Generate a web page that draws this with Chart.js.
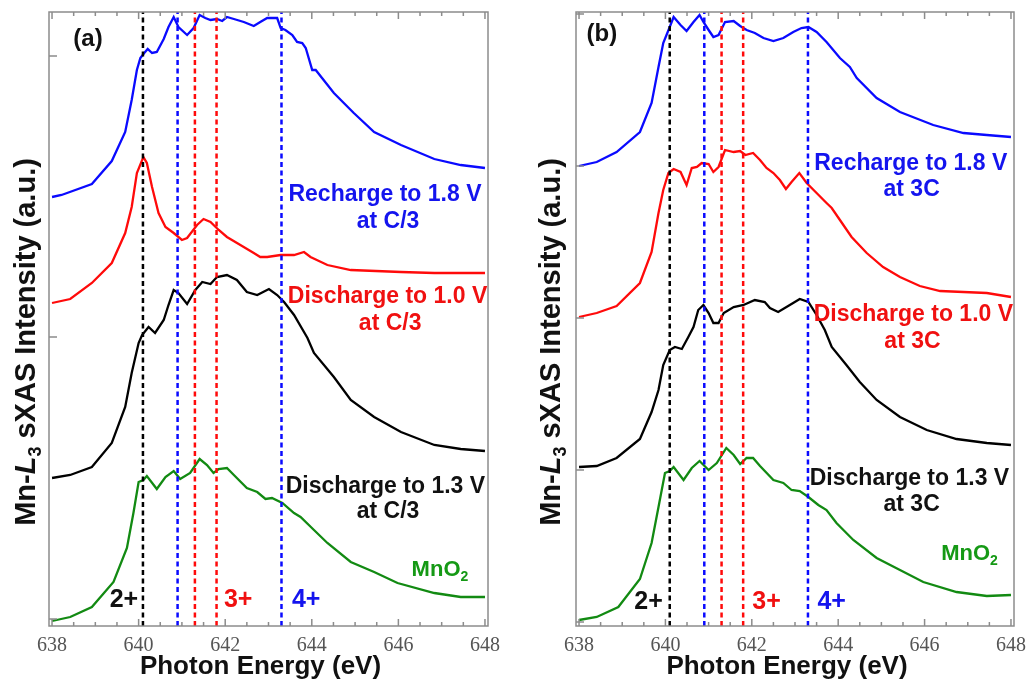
<!DOCTYPE html>
<html>
<head>
<meta charset="utf-8">
<script src="https://cdn.jsdelivr.net/npm/chart.js@4.4.1/dist/chart.umd.min.js"></script>
<style>
  html, body { margin: 0; padding: 0; background: #fff; }
  #wrap { position: relative; width: 1027px; height: 682px; background: #fff; }
  #wrap canvas { position: absolute; top: 0; }
</style>
</head>
<body>
<div id="wrap">
  <canvas id="chartA" width="512" height="682" style="left:0;width:512px;height:682px"></canvas>
  <canvas id="chartB" width="515" height="682" style="left:512px;width:515px;height:682px"></canvas>
</div>
<script>
const energyTicks = [638, 640, 642, 644, 646, 648];
const markerEnergy = [640.1, 640.9, 641.3, 641.8, 643.3];

// panel (a): C/3, curves are offset stacked (a.u.)
const aRechargeE = [638.0, 638.22, 638.92, 639.38, 639.69, 639.84, 639.96, 640.04, 640.13, 640.21, 640.31, 640.42, 640.58, 640.69, 640.81, 640.92, 641.12, 641.27, 641.41, 641.54, 641.66, 641.81, 641.93, 642.04, 642.2, 642.43, 642.66, 642.81, 642.97, 643.2, 643.28, 643.39, 643.55, 643.66, 643.78, 643.86, 644.01, 644.09, 644.51, 644.97, 645.44, 646.06, 646.83, 647.44, 648.0];
const aRechargeI = [4.29, 4.31, 4.42, 4.65, 4.94, 5.26, 5.56, 5.68, 5.73, 5.77, 5.73, 5.74, 5.87, 5.99, 6.09, 5.99, 5.91, 5.98, 6.11, 6.08, 6.06, 6.07, 6.05, 6.09, 6.07, 6.04, 6.00, 6.04, 6.08, 6.08, 5.98, 5.96, 5.91, 5.84, 5.83, 5.78, 5.56, 5.56, 5.33, 5.13, 4.94, 4.81, 4.67, 4.61, 4.58];
const aDis10E = [638.0, 638.42, 638.92, 639.38, 639.69, 639.84, 639.96, 640.11, 640.19, 640.31, 640.46, 640.62, 640.81, 641.0, 641.12, 641.35, 641.5, 641.66, 641.85, 642.04, 642.35, 642.66, 642.81, 642.97, 643.28, 643.59, 643.82, 643.97, 644.36, 644.9, 646.06, 646.83, 648.0];
const aDis10I = [3.23, 3.27, 3.43, 3.63, 3.93, 4.19, 4.53, 4.69, 4.63, 4.39, 4.13, 3.99, 3.93, 3.86, 3.88, 4.01, 4.07, 4.04, 3.96, 3.89, 3.81, 3.73, 3.69, 3.69, 3.71, 3.71, 3.74, 3.69, 3.61, 3.56, 3.54, 3.53, 3.53];
const aDis13E = [638.0, 638.42, 638.92, 639.38, 639.69, 639.84, 640.0, 640.08, 640.23, 640.38, 640.58, 640.69, 640.81, 640.92, 641.12, 641.31, 641.47, 641.66, 641.81, 642.04, 642.27, 642.5, 642.74, 643.01, 643.2, 643.36, 643.59, 643.9, 644.05, 644.51, 644.9, 645.44, 646.06, 646.83, 647.44, 648.0];
const aDis13I = [1.48, 1.51, 1.59, 1.83, 2.19, 2.53, 2.83, 2.91, 2.99, 2.93, 3.06, 3.21, 3.36, 3.33, 3.22, 3.36, 3.44, 3.42, 3.49, 3.51, 3.46, 3.34, 3.31, 3.37, 3.31, 3.24, 3.11, 2.88, 2.73, 2.49, 2.26, 2.09, 1.94, 1.81, 1.77, 1.75];
const aMnO2E = [638.0, 638.42, 638.92, 639.42, 639.73, 639.88, 640.0, 640.11, 640.19, 640.42, 640.62, 640.81, 640.96, 641.19, 641.41, 641.58, 641.73, 641.85, 642.04, 642.2, 642.5, 642.74, 642.93, 643.08, 643.32, 643.59, 643.74, 644.05, 644.36, 644.9, 645.44, 645.98, 646.83, 647.44, 648.0];
const aMnO2I = [0.05, 0.09, 0.19, 0.44, 0.78, 1.13, 1.44, 1.46, 1.50, 1.37, 1.49, 1.55, 1.47, 1.53, 1.67, 1.61, 1.53, 1.57, 1.58, 1.51, 1.38, 1.34, 1.27, 1.28, 1.23, 1.13, 1.09, 0.96, 0.83, 0.64, 0.54, 0.43, 0.33, 0.29, 0.29];

// panel (b): 3C
const bRechargeE = [638.0, 638.41, 638.87, 639.41, 639.68, 639.84, 639.95, 640.1, 640.19, 640.35, 640.49, 640.65, 640.79, 640.88, 641.0, 641.11, 641.23, 641.38, 641.58, 641.73, 641.88, 642.07, 642.27, 642.5, 642.73, 642.96, 643.15, 643.31, 643.5, 643.73, 644.04, 644.27, 644.43, 644.89, 645.43, 646.2, 646.9, 647.44, 648.0];
const bRechargeI = [4.60, 4.64, 4.74, 4.94, 5.23, 5.59, 5.83, 5.99, 6.09, 6.01, 5.95, 6.04, 6.11, 6.04, 5.96, 5.89, 5.91, 6.04, 6.05, 6.00, 5.96, 5.93, 5.88, 5.85, 5.88, 5.94, 5.98, 5.99, 5.94, 5.84, 5.68, 5.59, 5.48, 5.28, 5.14, 5.01, 4.93, 4.91, 4.89];
const bDis10E = [638.0, 638.41, 638.87, 639.41, 639.68, 639.84, 639.95, 640.07, 640.19, 640.35, 640.49, 640.61, 640.73, 640.84, 641.0, 641.11, 641.23, 641.38, 641.58, 641.73, 641.85, 642.03, 642.19, 642.34, 642.5, 642.65, 642.79, 642.92, 643.1, 643.27, 643.5, 643.73, 643.85, 644.04, 644.31, 644.66, 645.04, 645.43, 645.89, 646.36, 647.44, 648.0];
const bDis10I = [3.09, 3.13, 3.20, 3.43, 3.74, 4.13, 4.36, 4.53, 4.57, 4.54, 4.41, 4.58, 4.59, 4.63, 4.62, 4.54, 4.59, 4.76, 4.74, 4.75, 4.71, 4.73, 4.66, 4.58, 4.53, 4.46, 4.37, 4.44, 4.53, 4.43, 4.33, 4.23, 4.18, 4.06, 3.89, 3.73, 3.59, 3.49, 3.40, 3.35, 3.33, 3.29];
const bDis13E = [638.0, 638.41, 638.87, 639.41, 639.68, 639.84, 639.95, 640.1, 640.22, 640.38, 640.53, 640.65, 640.76, 640.88, 641.0, 641.11, 641.23, 641.35, 641.58, 641.81, 642.07, 642.3, 642.42, 642.61, 642.88, 643.11, 643.31, 643.5, 643.69, 643.85, 644.19, 644.5, 644.89, 645.43, 646.05, 646.74, 647.44, 648.0];
const bDis13I = [1.59, 1.60, 1.68, 1.87, 2.14, 2.36, 2.61, 2.76, 2.79, 2.77, 2.89, 2.99, 3.16, 3.21, 3.13, 3.03, 3.03, 3.13, 3.19, 3.21, 3.26, 3.24, 3.18, 3.14, 3.21, 3.27, 3.24, 3.11, 2.96, 2.79, 2.61, 2.44, 2.26, 2.09, 1.96, 1.87, 1.83, 1.81];
const bMnO2E = [638.0, 638.41, 638.91, 639.41, 639.68, 639.84, 639.99, 640.1, 640.19, 640.42, 640.61, 640.79, 641.0, 641.19, 641.41, 641.58, 641.73, 641.88, 642.03, 642.19, 642.5, 642.73, 642.92, 643.11, 643.31, 643.54, 643.73, 643.96, 644.35, 644.89, 645.43, 645.97, 646.74, 647.44, 648.0];
const bMnO2I = [0.06, 0.09, 0.19, 0.47, 0.83, 1.19, 1.53, 1.55, 1.59, 1.46, 1.58, 1.65, 1.56, 1.63, 1.78, 1.71, 1.62, 1.68, 1.68, 1.60, 1.46, 1.43, 1.36, 1.35, 1.29, 1.21, 1.16, 1.03, 0.86, 0.68, 0.56, 0.44, 0.34, 0.30, 0.31];

// left axis tick marks
const aTicksY = [0.07, 2.89, 5.70];
const bTicksY = [0.04, 1.56, 3.08, 4.60, 6.12];

const BLUE = '#0a0aff', RED = '#ff0a0a', BLACK = '#000000', GREEN = '#128a12';
const markerColors = [BLACK, BLUE, RED, RED, BLUE];
const SANS = '"Liberation Sans", Arial, sans-serif';

const labelsA = [
    { text: '(a)', x: 638.83, y: 5.89, color: '#111', size: 24 },
    { text: 'Recharge to 1.8 V', x: 645.69, y: 4.33, color: '#1414ee', size: 23 },
    { text: 'at C/3', x: 645.76, y: 4.06, color: '#1414ee', size: 23 },
    { text: 'Discharge to 1.0 V', x: 645.75, y: 3.31, color: '#f01010', size: 23 },
    { text: 'at C/3', x: 645.81, y: 3.04, color: '#f01010', size: 23 },
    { text: 'Discharge to 1.3 V', x: 645.70, y: 1.41, color: '#111', size: 23 },
    { text: 'at C/3', x: 645.76, y: 1.16, color: '#111', size: 23 },
    { text: 'MnO', sub: '2', x: 646.96, y: 0.58, color: '#159915', size: 22 },
    { text: '2+', x: 639.66, y: 0.28, color: '#111', size: 25 },
    { text: '3+', x: 642.30, y: 0.28, color: '#f01010', size: 25 },
    { text: '4+', x: 643.87, y: 0.28, color: '#1414ee', size: 25 }
];
const labelsB = [
    { text: '(b)', x: 638.53, y: 5.94, color: '#111', size: 24 },
    { text: 'Recharge to 1.8 V', x: 645.68, y: 4.64, color: '#1414ee', size: 23 },
    { text: 'at 3C', x: 645.70, y: 4.38, color: '#1414ee', size: 23 },
    { text: 'Discharge to 1.0 V', x: 645.74, y: 3.13, color: '#f01010', size: 23 },
    { text: 'at 3C', x: 645.72, y: 2.86, color: '#f01010', size: 23 },
    { text: 'Discharge to 1.3 V', x: 645.65, y: 1.49, color: '#111', size: 23 },
    { text: 'at 3C', x: 645.70, y: 1.23, color: '#111', size: 23 },
    { text: 'MnO', sub: '2', x: 647.04, y: 0.74, color: '#159915', size: 22 },
    { text: '2+', x: 639.61, y: 0.26, color: '#111', size: 25 },
    { text: '3+', x: 642.34, y: 0.26, color: '#f01010', size: 25 },
    { text: '4+', x: 643.85, y: 0.26, color: '#1414ee', size: 25 }
];

function toPoints(xs, ys) {
    return xs.map((x, i) => ({ x: x, y: ys[i] }));
}

function drawYTitle(ctx, cx, cy) {
    const runs = [
        { t: 'Mn-', f: 'bold 29px ' + SANS, dy: 0 },
        { t: 'L', f: 'italic bold 29px ' + SANS, dy: 0 },
        { t: '3', f: 'bold 18px ' + SANS, dy: 6 },
        { t: ' sXAS Intensity (a.u.)', f: 'bold 29px ' + SANS, dy: 0 }
    ];
    ctx.save();
    ctx.translate(cx, cy);
    ctx.rotate(-Math.PI / 2);
    let total = 0;
    runs.forEach(r => { ctx.font = r.f; r.w = ctx.measureText(r.t).width; total += r.w; });
    let x = -total / 2;
    ctx.fillStyle = '#111';
    ctx.textBaseline = 'alphabetic';
    runs.forEach(r => { ctx.font = r.f; ctx.fillText(r.t, x, 10 + r.dy); x += r.w; });
    ctx.restore();
}

function makePanel(canvasId, curves, ticksY, labels, pad, titleX) {
    const datasets = [];
    markerEnergy.forEach((e, i) => {
        datasets.push({
            data: [{ x: e, y: 0 }, { x: e, y: 6.14 }],
            borderColor: markerColors[i],
            borderWidth: 2.5,
            borderDash: [5, 3.5],
            pointRadius: 0,
            order: 0
        });
    });
    curves.forEach(c => {
        datasets.push({
            data: toPoints(c[0], c[1]),
            borderColor: c[2],
            borderWidth: 2.3,
            pointRadius: 0,
            tension: 0,
            order: 1
        });
    });

    const framePlugin = {
        id: 'frame' + canvasId,
        afterDatasetsDraw(chart) {
            const { ctx, chartArea: a, scales: { x, y } } = chart;
            ctx.save();
            ctx.strokeStyle = '#8c8c8c';
            ctx.lineWidth = 1.5;
            ctx.strokeRect(a.left, a.top, a.right - a.left, a.bottom - a.top);
            ctx.beginPath();
            for (let k = 0; k <= 20; k++) {
                const v = 638 + k * 0.5;
                const px = x.getPixelForValue(v);
                const len = (k % 4 === 0) ? 7 : 4;
                ctx.moveTo(px, a.bottom); ctx.lineTo(px, a.bottom - len);
                ctx.moveTo(px, a.top); ctx.lineTo(px, a.top + len);
            }
            ticksY.forEach(v => {
                const py = y.getPixelForValue(v);
                ctx.moveTo(a.left, py); ctx.lineTo(a.left + 8, py);
            });
            ctx.stroke();
            ctx.restore();
        },
        afterDraw(chart) {
            const { ctx, chartArea: a, scales: { x, y } } = chart;
            labels.forEach(l => {
                const px = x.getPixelForValue(l.x);
                const py = y.getPixelForValue(l.y) + l.size * 0.36;
                ctx.save();
                ctx.fillStyle = l.color;
                ctx.textBaseline = 'alphabetic';
                ctx.font = 'bold ' + l.size + 'px ' + SANS;
                const w1 = ctx.measureText(l.text).width;
                let w2 = 0;
                const subFont = 'bold ' + Math.round(l.size * 0.62) + 'px ' + SANS;
                if (l.sub) { ctx.font = subFont; w2 = ctx.measureText(l.sub).width; }
                const x0 = px - (w1 + w2) / 2;
                ctx.font = 'bold ' + l.size + 'px ' + SANS;
                ctx.fillText(l.text, x0, py);
                if (l.sub) { ctx.font = subFont; ctx.fillText(l.sub, x0 + w1, py + l.size * 0.25); }
                ctx.restore();
            });
            // x axis title, sits a little left of the plot centre in the original
            ctx.save();
            ctx.fillStyle = '#111';
            ctx.font = 'bold 26px ' + SANS;
            ctx.textAlign = 'center';
            ctx.textBaseline = 'middle';
            ctx.fillText('Photon Energy (eV)', (a.left + a.right) / 2 - 8, 667);
            ctx.restore();
            drawYTitle(ctx, titleX, 342);
        }
    };

    new Chart(document.getElementById(canvasId).getContext('2d'), {
        type: 'line',
        data: { datasets: datasets },
        options: {
            responsive: false,
            animation: false,
            layout: { padding: { left: pad[0], right: pad[1], top: 12, bottom: 0 } },
            plugins: { legend: { display: false }, tooltip: { enabled: false } },
            scales: {
                x: {
                    type: 'linear',
                    min: 637.93,
                    max: 648.07,
                    grid: { display: false },
                    border: { display: false },
                    afterBuildTicks: s => { s.ticks = energyTicks.map(v => ({ value: v })); },
                    afterFit: s => { s.height = 56; },
                    ticks: {
                        autoSkip: false,
                        maxRotation: 0,
                        padding: 0,
                        color: '#555',
                        font: { family: '"Liberation Serif", "DejaVu Serif", serif', size: 20 }
                    },
                    title: { display: false }
                },
                y: { display: false, min: 0, max: 6.14 }
            }
        },
        plugins: [framePlugin]
    });
}

document.addEventListener("DOMContentLoaded", function() {
    makePanel('chartA', [
        [aRechargeE, aRechargeI, BLUE],
        [aDis10E, aDis10I, RED],
        [aDis13E, aDis13I, BLACK],
        [aMnO2E, aMnO2I, GREEN]
    ], aTicksY, labelsA, [49, 24], 25);

    makePanel('chartB', [
        [bRechargeE, bRechargeI, BLUE],
        [bDis10E, bDis10I, RED],
        [bDis13E, bDis13I, BLACK],
        [bMnO2E, bMnO2I, GREEN]
    ], bTicksY, labelsB, [64, 13], 37.5);
});
</script>
</body>
</html>
